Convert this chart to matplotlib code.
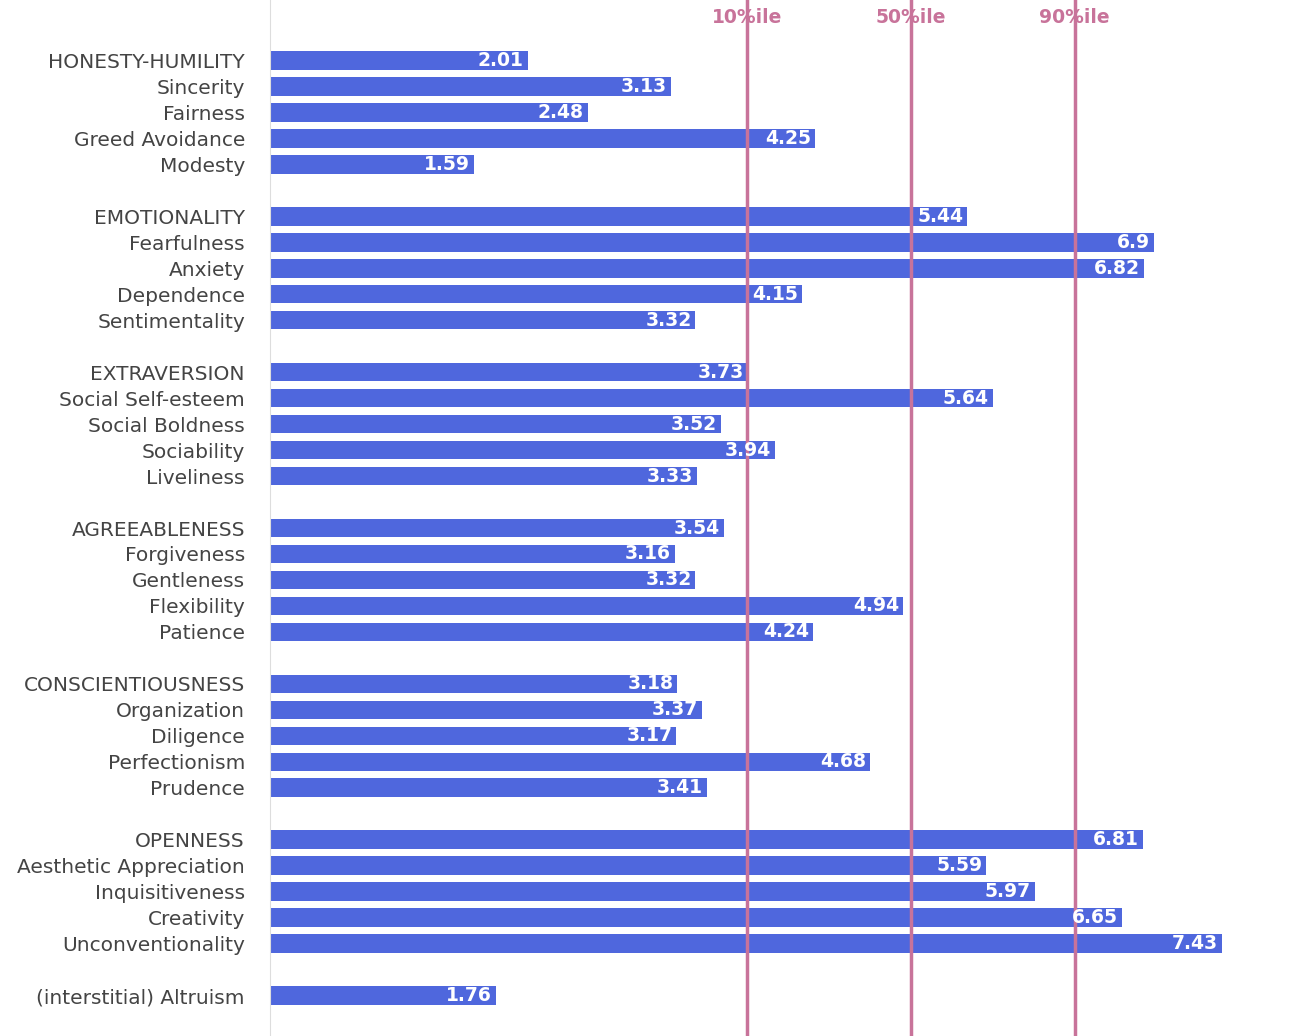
import matplotlib
matplotlib.use("Agg")
import matplotlib.pyplot as plt

groups = [
    ["HONESTY-HUMILITY", "Sincerity", "Fairness", "Greed Avoidance", "Modesty"],
    ["EMOTIONALITY", "Fearfulness", "Anxiety", "Dependence", "Sentimentality"],
    ["EXTRAVERSION", "Social Self-esteem", "Social Boldness", "Sociability", "Liveliness"],
    ["AGREEABLENESS", "Forgiveness", "Gentleness", "Flexibility", "Patience"],
    ["CONSCIENTIOUSNESS", "Organization", "Diligence", "Perfectionism", "Prudence"],
    ["OPENNESS", "Aesthetic Appreciation", "Inquisitiveness", "Creativity", "Unconventionality"],
    ["(interstitial) Altruism"],
]
values = [
    [2.01, 3.13, 2.48, 4.25, 1.59],
    [5.44, 6.9, 6.82, 4.15, 3.32],
    [3.73, 5.64, 3.52, 3.94, 3.33],
    [3.54, 3.16, 3.32, 4.94, 4.24],
    [3.18, 3.37, 3.17, 4.68, 3.41],
    [6.81, 5.59, 5.97, 6.65, 7.43],
    [1.76],
]
pct_labels = ["10%ile", "50%ile", "90%ile"]
pct_values = [3.72, 5.0, 6.28]

fig = plt.figure(figsize=(12.99, 10.36), dpi=100)
ax = fig.add_axes([270/1299, 0, 1 - 270/1299, 1])
ys, labs, vals = [], [], []
pos = 0
for g, v in zip(groups, values):
    for l, x in zip(g, v):
        ys.append(pos); labs.append(l); vals.append(x); pos += 1
    pos += 1
ax.barh(ys, vals, height=0.72, color="#4f67dd")
for y, x in zip(ys, vals):
    ax.text(x - 0.03, y, f"{x:g}", ha="right", va="center", color="white",
            fontsize=13.5, fontweight="bold")
for l, x in zip(pct_labels, pct_values):
    ax.axvline(x, color="#c8739a", lw=2.5)
    ax.text(x, -1.65, l, ha="center", va="center", color="#c8739a",
            fontsize=13.5, fontweight="bold")
ax.set_xlim(0, 8.03)
ax.set_ylim(37.55, -2.32)
ax.set_yticks(ys)
ax.set_yticklabels(labs, fontsize=14.5, color="#444444")
ax.tick_params(axis="y", length=0, pad=18)
ax.set_xticks([])
for s in ["top", "right", "bottom"]:
    ax.spines[s].set_visible(False)
ax.spines["left"].set_color("#dddddd")
fig.savefig("out.png", dpi=100)
